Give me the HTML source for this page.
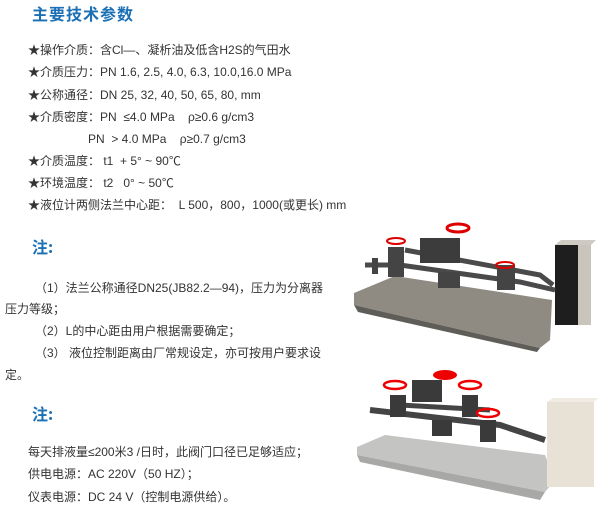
<!DOCTYPE html><html><head><meta charset="utf-8"><style>
body{margin:0;width:600px;height:525px;background:#fff;position:relative;overflow:hidden;font-family:"Liberation Sans","Noto Sans CJK SC",sans-serif;color:#333;font-size:12px}
.t{position:absolute;white-space:nowrap;line-height:14px}
.h{color:#1a6fb5;font-weight:bold;font-size:16px;font-family:"Noto Sans CJK SC",sans-serif}
</style></head><body>
<div class="t h" style="left:32px;top:6px;letter-spacing:1px">主要技术参数</div>
<div class="t" style="left:28px;top:43px">★操作介质：含Cl—、凝析油及低含H2S的气田水</div>
<div class="t" style="left:28px;top:65px">★介质压力：PN 1.6, 2.5, 4.0, 6.3, 10.0,16.0 MPa</div>
<div class="t" style="left:28px;top:88px">★公称通径：DN 25, 32, 40, 50, 65, 80, mm</div>
<div class="t" style="left:28px;top:110px">★介质密度：PN &nbsp;≤4.0 MPa &nbsp;&nbsp;&nbsp;ρ≥0.6 g/cm3</div>
<div class="t" style="left:88px;top:132px">PN &nbsp;&gt; 4.0 MPa &nbsp;&nbsp;&nbsp;ρ≥0.7 g/cm3</div>
<div class="t" style="left:28px;top:154px">★介质温度： t1 &nbsp;+ 5° ~ 90℃</div>
<div class="t" style="left:28px;top:176px">★环境温度： t2 &nbsp;&nbsp;0° ~ 50℃</div>
<div class="t" style="left:28px;top:198px">★液位计两侧法兰中心距： &nbsp;L 500，800，1000(或更长) mm</div>
<div class="t h" style="left:32px;top:239px">注:</div>
<div class="t" style="left:35px;top:281px">（1）法兰公称通径DN25(JB82.2—94)，压力为分离器</div>
<div class="t" style="left:5px;top:302px">压力等级；</div>
<div class="t" style="left:35px;top:324px">（2）L的中心距由用户根据需要确定；</div>
<div class="t" style="left:35px;top:346px">（3） 液位控制距离由厂常规设定，亦可按用户要求设</div>
<div class="t" style="left:5px;top:368px">定。</div>
<div class="t h" style="left:32px;top:406px">注:</div>
<div class="t" style="left:28px;top:445px">每天排液量≤200米3 /日时，此阀门口径已足够适应；</div>
<div class="t" style="left:28px;top:467px">供电电源：AC 220V（50 HZ）；</div>
<div class="t" style="left:28px;top:490px">仪表电源：DC 24 V（控制电源供给）。</div>
<svg style="position:absolute;left:0;top:0" width="600" height="525">
<!-- top image -->
<polygon points="354,293 395,276 552,300 550,340 540,348 354,305" fill="#8f8b82"/>
<polygon points="354,305 540,348 537,352 358,312" fill="#5f5d58"/>
<rect x="555" y="245" width="36" height="80" fill="#1e1e1e"/>
<polygon points="555,245 561,240 596,240 591,245" fill="#cfcbc2"/>
<rect x="578" y="245" width="13" height="80" fill="#c9c5bc"/>
<path d="M365,265 L400,265 L520,282 L555,290" stroke="#4a4a4a" stroke-width="5" fill="none"/>
<path d="M405,250 L540,275 L553,285" stroke="#4a4a4a" stroke-width="5" fill="none"/>
<rect x="388" y="247" width="16" height="30" fill="#444"/>
<rect x="420" y="238" width="40" height="25" fill="#3c3c3c"/>
<rect x="438" y="272" width="22" height="16" fill="#444"/>
<rect x="497" y="265" width="18" height="25" fill="#444"/>
<rect x="372" y="258" width="6" height="16" fill="#444"/>
<ellipse cx="396" cy="241" rx="9" ry="3" fill="none" stroke="#d00" stroke-width="2"/>
<ellipse cx="458" cy="228" rx="11" ry="4" fill="none" stroke="#d00" stroke-width="3"/>
<ellipse cx="505" cy="265" rx="9" ry="3" fill="none" stroke="#d00" stroke-width="2"/>
<!-- bottom image -->
<polygon points="357,447 385,435 545,455 555,480 545,492 357,455" fill="#c4c4c2"/>
<polygon points="357,455 545,492 540,500 360,462" fill="#a8a8a6"/>
<rect x="547" y="402" width="47" height="85" fill="#e8e2d6"/>
<polygon points="547,402 553,398 598,398 594,402" fill="#f0ece4"/>
<path d="M370,410 L500,425 L545,440" stroke="#444" stroke-width="6" fill="none"/>
<path d="M400,405 L490,410" stroke="#444" stroke-width="5" fill="none"/>
<rect x="412" y="380" width="30" height="22" fill="#3a3a3a"/>
<rect x="390" y="395" width="16" height="22" fill="#3a3a3a"/>
<rect x="462" y="395" width="16" height="22" fill="#3a3a3a"/>
<rect x="480" y="420" width="16" height="22" fill="#3a3a3a"/>
<rect x="432" y="420" width="20" height="16" fill="#3a3a3a"/>
<ellipse cx="395" cy="385" rx="11" ry="4" fill="none" stroke="#e00" stroke-width="2.5"/>
<ellipse cx="445" cy="375" rx="12" ry="5" fill="#e00"/>
<ellipse cx="470" cy="385" rx="11" ry="4" fill="none" stroke="#e00" stroke-width="2.5"/>
<ellipse cx="488" cy="413" rx="11" ry="4" fill="none" stroke="#e00" stroke-width="2.5"/>
</svg>
</body></html>
